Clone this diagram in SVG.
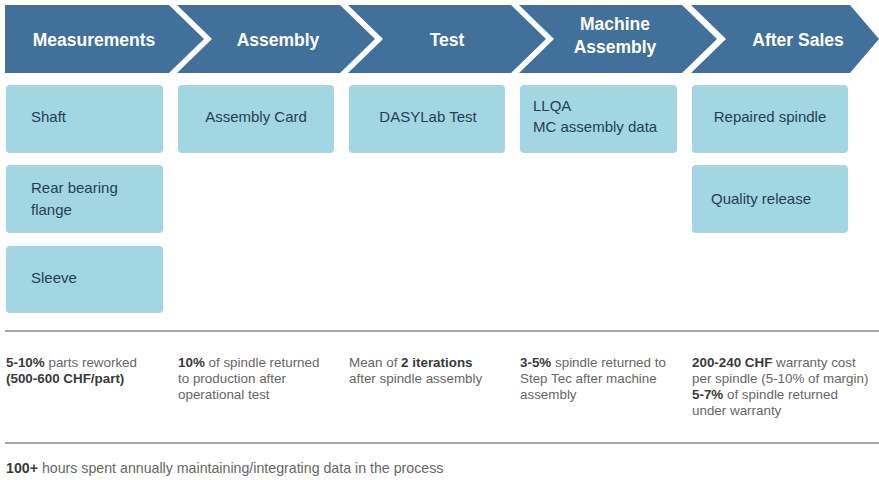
<svg xmlns="http://www.w3.org/2000/svg" width="879" height="480" viewBox="0 0 879 480">
<style>
.chev{fill:#41709a}
.ct{font-family:"Liberation Sans",Arial,sans-serif;font-weight:bold;font-size:17.5px;fill:#ffffff;text-anchor:middle}
.box{fill:#a2d6e2}
.bt{font-family:"Liberation Sans",Arial,sans-serif;font-size:15px;fill:#253f51}
.ft{font-family:"Liberation Sans",Arial,sans-serif;font-size:13.4px;fill:#666666}
.fo{font-size:14.2px}
.b{font-weight:bold;fill:#3a3a3a}
.rule{stroke:#8a8a8a;stroke-width:1.5}
</style>
<rect width="879" height="480" fill="#ffffff"/>
<g id="stage-measurements">
<polygon class="chev" points="5,5 169,5 204,39 169,73 5,73"/>
<text class="ct" x="94" y="46">Measurements</text>
</g>
<g id="stage-assembly">
<polygon class="chev" points="177,5 340,5 375,39 340,73 177,73 212,39"/>
<text class="ct" x="278" y="46">Assembly</text>
</g>
<g id="stage-test">
<polygon class="chev" points="348,5 511,5 546,39 511,73 348,73 383,39"/>
<text class="ct" x="447" y="46">Test</text>
</g>
<g id="stage-machine-assembly">
<polygon class="chev" points="519,5 682,5 717,39 682,73 519,73 554,39"/>
<text class="ct" x="615" y="30">Machine</text>
<text class="ct" x="615" y="53">Assembly</text>
</g>
<g id="stage-after-sales">
<polygon class="chev" points="691,5 850,5 879,39 850,73 691,73 726,39"/>
<text class="ct" x="798" y="46">After Sales</text>
</g>
<g id="box-shaft"><rect class="box" x="6" y="85" width="157" height="68" rx="4"/><text class="bt" x="31" y="122">Shaft</text></g>
<g id="box-rear-bearing"><rect class="box" x="6" y="165" width="157" height="68" rx="4"/><text class="bt" x="31" y="193">Rear bearing</text><text class="bt" x="31" y="215">flange</text></g>
<g id="box-sleeve"><rect class="box" x="6" y="246" width="157" height="67" rx="4"/><text class="bt" x="31" y="283">Sleeve</text></g>
<g id="box-assembly-card"><rect class="box" x="178" y="85" width="156" height="68" rx="4"/><text class="bt" x="256" y="122" text-anchor="middle">Assembly Card</text></g>
<g id="box-dasylab"><rect class="box" x="349" y="85" width="156" height="68" rx="4"/><text class="bt" x="428" y="122" text-anchor="middle">DASYLab Test</text></g>
<g id="box-llqa"><rect class="box" x="520" y="85" width="157" height="68" rx="4"/><text class="bt" x="533" y="111">LLQA</text><text class="bt" x="533" y="132">MC assembly data</text></g>
<g id="box-repaired"><rect class="box" x="692" y="85" width="156" height="68" rx="4"/><text class="bt" x="770" y="122" text-anchor="middle">Repaired spindle</text></g>
<g id="box-quality"><rect class="box" x="692" y="165" width="156" height="68" rx="4"/><text class="bt" x="711" y="204">Quality release</text></g>
<line class="rule" x1="5" y1="331" x2="879" y2="331"/>
<line class="rule" x1="5" y1="443" x2="879" y2="443"/>
<g id="note-measurements">
<text class="ft" x="6" y="367"><tspan class="b">5-10%</tspan> parts reworked</text>
<text class="ft b" x="6" y="383">(500-600 CHF/part)</text>
</g>
<g id="note-assembly">
<text class="ft" x="178" y="367"><tspan class="b">10%</tspan> of spindle returned</text>
<text class="ft" x="178" y="383">to production after</text>
<text class="ft" x="178" y="399">operational test</text>
</g>
<g id="note-test">
<text class="ft" x="349" y="367">Mean of <tspan class="b">2 iterations</tspan></text>
<text class="ft" x="349" y="383">after spindle assembly</text>
</g>
<g id="note-machine">
<text class="ft" x="520" y="367"><tspan class="b">3-5%</tspan> spindle returned to</text>
<text class="ft" x="520" y="383">Step Tec after machine</text>
<text class="ft" x="520" y="399">assembly</text>
</g>
<g id="note-after-sales">
<text class="ft" x="692" y="367"><tspan class="b">200-240 CHF</tspan> warranty cost</text>
<text class="ft" x="692" y="383">per spindle (5-10% of margin)</text>
<text class="ft" x="692" y="399"><tspan class="b">5-7%</tspan> of spindle returned</text>
<text class="ft" x="692" y="415">under warranty</text>
</g>
<g id="footer">
<text class="ft fo" x="6" y="473"><tspan class="b">100+</tspan> hours spent annually maintaining/integrating data in the process</text>
</g>
</svg>
